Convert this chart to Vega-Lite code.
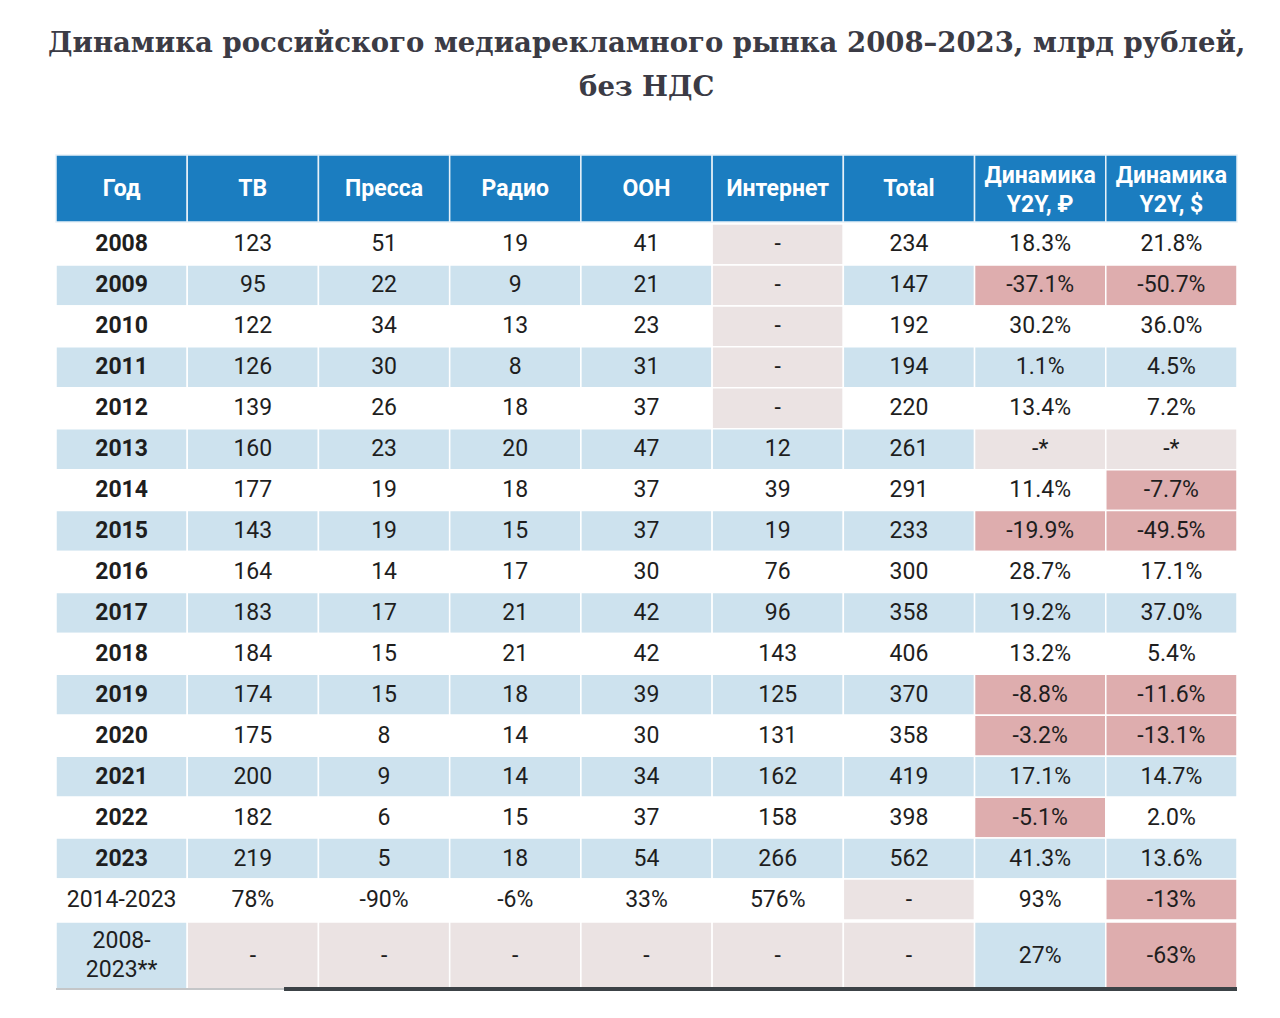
{
  "$schema": "https://vega.github.io/schema/vega-lite/v6.json",
  "background": "white",
  "autosize": {"type": "pad"},
  "padding": {"top": 29, "left": 48, "right": 33, "bottom": 10},
  "title": {
    "text": ["Динамика российского медиарекламного рынка 2008–2023, млрд рублей,", "без НДС"],
    "font": "DejaVu Serif",
    "fontSize": 27.5,
    "fontWeight": "bold",
    "color": "#3b3b45",
    "lineHeight": 44,
    "anchor": "middle",
    "offset": 53
  },
  "datasets": {
    "header": [
      {"col": "Год", "label": "Год"},
      {"col": "ТВ", "label": "ТВ"},
      {"col": "Пресса", "label": "Пресса"},
      {"col": "Радио", "label": "Радио"},
      {"col": "OOH", "label": "OOH"},
      {"col": "Интернет", "label": "Интернет"},
      {"col": "Total", "label": "Total"},
      {"col": "Динамика ₽", "label": "Динамика\nY2Y, ₽"},
      {"col": "Динамика $", "label": "Динамика\nY2Y, $"}
    ],
    "table": [
      {"Год": "2008", "ТВ": "123", "Пресса": "51", "Радио": "19", "OOH": "41", "Интернет": "-", "Total": "234", "Динамика ₽": "18.3%", "Динамика $": "21.8%"},
      {"Год": "2009", "ТВ": "95", "Пресса": "22", "Радио": "9", "OOH": "21", "Интернет": "-", "Total": "147", "Динамика ₽": "-37.1%", "Динамика $": "-50.7%"},
      {"Год": "2010", "ТВ": "122", "Пресса": "34", "Радио": "13", "OOH": "23", "Интернет": "-", "Total": "192", "Динамика ₽": "30.2%", "Динамика $": "36.0%"},
      {"Год": "2011", "ТВ": "126", "Пресса": "30", "Радио": "8", "OOH": "31", "Интернет": "-", "Total": "194", "Динамика ₽": "1.1%", "Динамика $": "4.5%"},
      {"Год": "2012", "ТВ": "139", "Пресса": "26", "Радио": "18", "OOH": "37", "Интернет": "-", "Total": "220", "Динамика ₽": "13.4%", "Динамика $": "7.2%"},
      {"Год": "2013", "ТВ": "160", "Пресса": "23", "Радио": "20", "OOH": "47", "Интернет": "12", "Total": "261", "Динамика ₽": "-*", "Динамика $": "-*"},
      {"Год": "2014", "ТВ": "177", "Пресса": "19", "Радио": "18", "OOH": "37", "Интернет": "39", "Total": "291", "Динамика ₽": "11.4%", "Динамика $": "-7.7%"},
      {"Год": "2015", "ТВ": "143", "Пресса": "19", "Радио": "15", "OOH": "37", "Интернет": "19", "Total": "233", "Динамика ₽": "-19.9%", "Динамика $": "-49.5%"},
      {"Год": "2016", "ТВ": "164", "Пресса": "14", "Радио": "17", "OOH": "30", "Интернет": "76", "Total": "300", "Динамика ₽": "28.7%", "Динамика $": "17.1%"},
      {"Год": "2017", "ТВ": "183", "Пресса": "17", "Радио": "21", "OOH": "42", "Интернет": "96", "Total": "358", "Динамика ₽": "19.2%", "Динамика $": "37.0%"},
      {"Год": "2018", "ТВ": "184", "Пресса": "15", "Радио": "21", "OOH": "42", "Интернет": "143", "Total": "406", "Динамика ₽": "13.2%", "Динамика $": "5.4%"},
      {"Год": "2019", "ТВ": "174", "Пресса": "15", "Радио": "18", "OOH": "39", "Интернет": "125", "Total": "370", "Динамика ₽": "-8.8%", "Динамика $": "-11.6%"},
      {"Год": "2020", "ТВ": "175", "Пресса": "8", "Радио": "14", "OOH": "30", "Интернет": "131", "Total": "358", "Динамика ₽": "-3.2%", "Динамика $": "-13.1%"},
      {"Год": "2021", "ТВ": "200", "Пресса": "9", "Радио": "14", "OOH": "34", "Интернет": "162", "Total": "419", "Динамика ₽": "17.1%", "Динамика $": "14.7%"},
      {"Год": "2022", "ТВ": "182", "Пресса": "6", "Радио": "15", "OOH": "37", "Интернет": "158", "Total": "398", "Динамика ₽": "-5.1%", "Динамика $": "2.0%"},
      {"Год": "2023", "ТВ": "219", "Пресса": "5", "Радио": "18", "OOH": "54", "Интернет": "266", "Total": "562", "Динамика ₽": "41.3%", "Динамика $": "13.6%"},
      {"Год": "2014-2023", "ТВ": "78%", "Пресса": "-90%", "Радио": "-6%", "OOH": "33%", "Интернет": "576%", "Total": "-", "Динамика ₽": "93%", "Динамика $": "-13%"},
      {"Год": "2008-\n2023**", "ТВ": "-", "Пресса": "-", "Радио": "-", "OOH": "-", "Интернет": "-", "Total": "-", "Динамика ₽": "27%", "Динамика $": "-63%"}
    ]
  },
  "spacing": 0,
  "vconcat": [
    {
      "width": 1181,
      "height": 67,
      "data": {"name": "header"},
      "encoding": {
        "x": {"field": "col", "type": "nominal", "sort": null,
              "scale": {"domain": ["Год", "ТВ", "Пресса", "Радио", "OOH", "Интернет", "Total", "Динамика ₽", "Динамика $"], "paddingInner": 0, "paddingOuter": 0},
              "axis": null}
      },
      "layer": [
        {"mark": {"type": "rect", "fill": "#1b7dc0", "stroke": "#e8f1f8", "strokeWidth": 1.5}},
        {"transform": [{"filter": "indexof(datum.label, '\\n') < 0"}],
         "mark": {"type": "text", "font": "Roboto", "fontSize": 23, "fontWeight": "bold", "color": "white"},
         "encoding": {"text": {"field": "label"}}},
        {"transform": [{"filter": "indexof(datum.label, '\\n') >= 0"}],
         "mark": {"type": "text", "font": "Roboto", "fontSize": 23, "fontWeight": "bold", "color": "white", "lineBreak": "\n", "lineHeight": 29, "dy": -12.5},
         "encoding": {"text": {"field": "label"}}}
      ]
    },
    {
      "width": 1181,
      "height": 696,
      "data": {"name": "table"},
      "transform": [
        {"window": [{"op": "row_number", "as": "i"}]},
        {"filter": "datum.i <= 17"},
        {"fold": ["Год", "ТВ", "Пресса", "Радио", "OOH", "Интернет", "Total", "Динамика ₽", "Динамика $"], "as": ["key", "value"]}
      ],
      "encoding": {
        "x": {"field": "key", "type": "nominal",
              "scale": {"domain": ["Год", "ТВ", "Пресса", "Радио", "OOH", "Интернет", "Total", "Динамика ₽", "Динамика $"], "paddingInner": 0, "paddingOuter": 0},
              "axis": null},
        "y": {"field": "Год", "type": "nominal", "sort": {"field": "i", "op": "min"},
              "scale": {"paddingInner": 0, "paddingOuter": 0}, "axis": null}
      },
      "layer": [
        {"mark": {"type": "rect", "stroke": "white", "strokeWidth": 1.5},
         "encoding": {
           "fill": {
             "condition": [
               {"test": "datum.value === '-' || datum.value === '-*'", "value": "#ebe3e3"},
               {"test": "(datum.key === 'Динамика ₽' || datum.key === 'Динамика $') && indexof(datum.value, '-') === 0", "value": "#deadae"},
               {"test": "datum.i % 2 === 0", "value": "#cde2ee"}
             ],
             "value": "white"
           }
         }},
        {"transform": [{"filter": "!(datum.key === 'Год' && length(datum.value) === 4)"}],
         "mark": {"type": "text", "font": "Roboto", "fontSize": 23, "color": "#1e1e1e"},
         "encoding": {"text": {"field": "value"}}},
        {"transform": [{"filter": "datum.key === 'Год' && length(datum.value) === 4"}],
         "mark": {"type": "text", "font": "Roboto", "fontSize": 23, "fontWeight": "bold", "color": "#1e1e1e"},
         "encoding": {"text": {"field": "value"}}}
      ]
    },
    {
      "width": 1181,
      "height": 67,
      "data": {"name": "table"},
      "transform": [
        {"window": [{"op": "row_number", "as": "i"}]},
        {"filter": "datum.i === 18"},
        {"fold": ["Год", "ТВ", "Пресса", "Радио", "OOH", "Интернет", "Total", "Динамика ₽", "Динамика $"], "as": ["key", "value"]}
      ],
      "encoding": {
        "x": {"field": "key", "type": "nominal",
              "scale": {"domain": ["Год", "ТВ", "Пресса", "Радио", "OOH", "Интернет", "Total", "Динамика ₽", "Динамика $"], "paddingInner": 0, "paddingOuter": 0},
              "axis": null},
        "y": {"field": "Год", "type": "nominal", "scale": {"paddingInner": 0, "paddingOuter": 0}, "axis": null}
      },
      "layer": [
        {"mark": {"type": "rect", "stroke": "white", "strokeWidth": 1.5},
         "encoding": {
           "fill": {
             "condition": [
               {"test": "datum.value === '-' || datum.value === '-*'", "value": "#ebe3e3"},
               {"test": "(datum.key === 'Динамика ₽' || datum.key === 'Динамика $') && indexof(datum.value, '-') === 0", "value": "#deadae"},
               {"test": "datum.i % 2 === 0", "value": "#cde2ee"}
             ],
             "value": "white"
           }
         }},
        {"transform": [{"filter": "indexof(datum.value, '\\n') < 0"}],
         "mark": {"type": "text", "font": "Roboto", "fontSize": 23, "color": "#1e1e1e"},
         "encoding": {"text": {"field": "value"}}},
        {"transform": [{"filter": "indexof(datum.value, '\\n') >= 0"}],
         "mark": {"type": "text", "font": "Roboto", "fontSize": 23, "color": "#1e1e1e", "lineBreak": "\n", "lineHeight": 29, "dy": -14.5},
         "encoding": {"text": {"field": "value"}}},
        {"mark": {"type": "rule", "color": "#c4c6c8", "strokeWidth": 2},
         "encoding": {
           "x": {"datum": "Год", "bandPosition": 0},
           "x2": {"datum": "ТВ", "bandPosition": 0.74},
           "y": {"datum": "2008-\n2023**", "bandPosition": 1}
         }},
        {"mark": {"type": "rule", "color": "#3c4247", "strokeWidth": 3},
         "encoding": {
           "x": {"datum": "ТВ", "bandPosition": 0.74},
           "x2": {"datum": "Динамика $", "bandPosition": 1},
           "y": {"datum": "2008-\n2023**", "bandPosition": 1}
         }}
      ]
    }
  ],
  "config": {"view": {"stroke": null}, "concat": {"spacing": 0}}
}
